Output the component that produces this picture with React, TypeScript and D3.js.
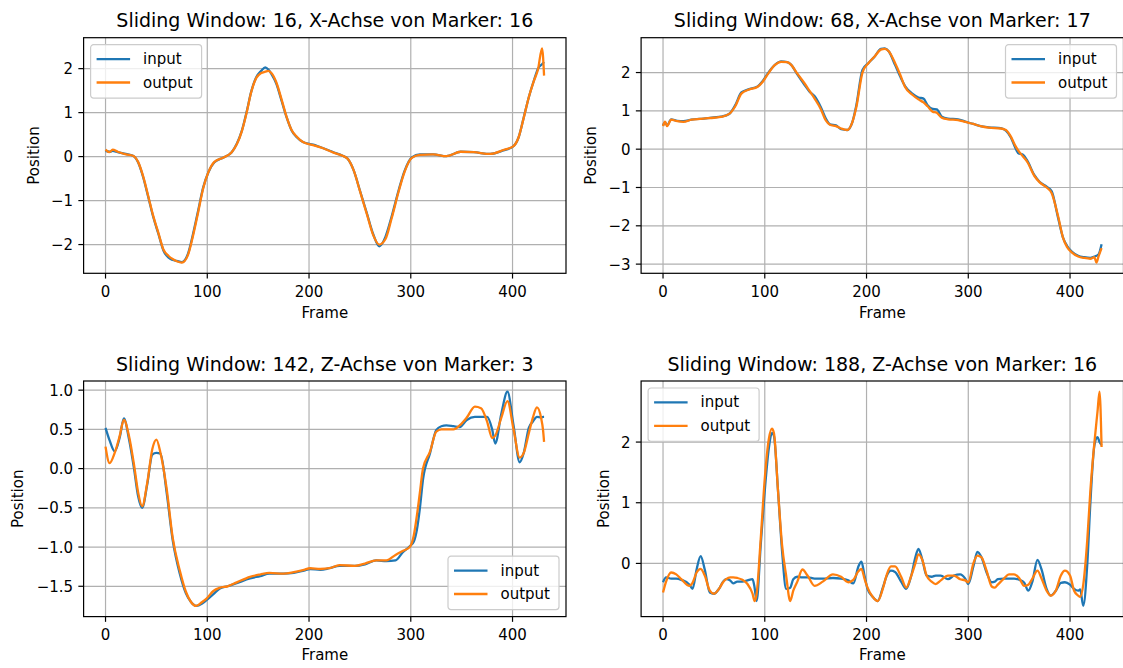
import React from 'react';
import * as d3 from 'd3';

// Panel 1: Sliding Window 16, X-Achse Marker 16
const frames1 = [0, 4, 7, 12, 20, 27, 32, 37, 42, 47, 52, 57, 62, 66, 70, 75, 81, 86, 91, 96, 101, 107, 116, 124, 129, 134, 139, 143, 148, 153, 157, 160, 163, 168, 173, 178, 183, 188, 194, 204, 214, 224, 233, 238, 244, 250, 257, 263, 269, 275, 281, 288, 294, 301, 309, 322, 335, 349, 362, 378, 391, 401, 406, 411, 416, 421, 425, 429, 431];
const input1 = [0.13, 0.11, 0.13, 0.1, 0.06, 0.02, -0.13, -0.47, -0.92, -1.38, -1.76, -2.14, -2.3, -2.35, -2.37, -2.4, -2.21, -1.76, -1.23, -0.7, -0.36, -0.13, -0.02, 0.1, 0.29, 0.59, 1.05, 1.46, 1.8, 1.95, 2.03, 1.98, 1.88, 1.65, 1.27, 0.89, 0.59, 0.44, 0.33, 0.27, 0.19, 0.1, 0.02, -0.05, -0.32, -0.77, -1.3, -1.76, -2.04, -1.83, -1.38, -0.77, -0.32, -0.02, 0.05, 0.05, 0.01, 0.11, 0.1, 0.06, 0.14, 0.24, 0.44, 0.89, 1.35, 1.73, 2.0, 2.1, 2.15];
const output1 = [0.16, 0.1, 0.16, 0.11, 0.05, 0.02, -0.12, -0.45, -0.9, -1.36, -1.74, -2.12, -2.26, -2.33, -2.38, -2.41, -2.24, -1.8, -1.27, -0.72, -0.36, -0.12, -0.02, 0.1, 0.28, 0.58, 1.03, 1.45, 1.78, 1.9, 1.93, 1.95, 1.9, 1.68, 1.3, 0.9, 0.6, 0.45, 0.33, 0.26, 0.19, 0.09, 0.02, -0.05, -0.32, -0.78, -1.32, -1.78, -2.0, -1.88, -1.42, -0.8, -0.34, -0.03, 0.04, 0.05, 0.01, 0.11, 0.1, 0.06, 0.15, 0.24, 0.44, 0.88, 1.35, 1.72, 1.98, 2.46, 1.84];

// Panel 2: Sliding Window 68, X-Achse Marker 17
const frames2 = [0, 2, 4, 8, 14, 20, 28, 40, 50, 57, 65, 71, 77, 84, 93, 98, 103, 110, 116, 122, 126, 132, 139, 144, 149, 155, 160, 164, 170, 175, 181, 186, 190, 196, 202, 208, 214, 218, 222, 228, 233, 238, 245, 251, 256, 260, 265, 269, 274, 280, 290, 297, 305, 312, 320, 332, 337, 342, 346, 349, 354, 358, 365, 370, 377, 382, 388, 393, 397, 402, 408, 414, 420, 424, 426, 428, 431];
const input2 = [0.62, 0.7, 0.62, 0.78, 0.74, 0.73, 0.77, 0.8, 0.83, 0.85, 0.92, 1.15, 1.48, 1.56, 1.64, 1.78, 1.98, 2.2, 2.29, 2.27, 2.2, 1.95, 1.68, 1.5, 1.38, 1.1, 0.8, 0.65, 0.62, 0.52, 0.5, 0.7, 1.15, 2.07, 2.25, 2.42, 2.62, 2.63, 2.55, 2.2, 1.9, 1.64, 1.45, 1.35, 1.32, 1.15, 1.05, 1.04, 0.85, 0.8, 0.78, 0.72, 0.66, 0.6, 0.57, 0.55, 0.48, 0.3, 0.05, -0.1, -0.15, -0.3, -0.68, -0.85, -0.98, -1.1, -1.76, -2.3, -2.52, -2.68, -2.78, -2.82, -2.84, -2.8, -2.78, -2.75, -2.48];
const output2 = [0.6, 0.72, 0.6, 0.77, 0.73, 0.71, 0.77, 0.8, 0.82, 0.84, 0.92, 1.12, 1.45, 1.55, 1.63, 1.76, 1.96, 2.2, 2.28, 2.27, 2.2, 1.97, 1.72, 1.52, 1.32, 1.05, 0.75, 0.64, 0.6, 0.54, 0.5, 0.7, 1.1, 2.0, 2.25, 2.42, 2.6, 2.62, 2.55, 2.25, 1.95, 1.62, 1.42, 1.3, 1.22, 1.12, 0.98, 0.95, 0.82, 0.78, 0.76, 0.71, 0.66, 0.6, 0.56, 0.54, 0.5, 0.32, 0.1, -0.03, -0.2, -0.33, -0.7, -0.86, -1.0, -1.15, -1.72, -2.3, -2.55, -2.7, -2.8, -2.84, -2.86, -2.82, -2.96, -2.8, -2.58];

// Panel 3: Sliding Window 142, Z-Achse Marker 3
const frames3 = [0, 4, 9, 14, 18, 23, 28, 32, 36, 41, 46, 50, 54, 60, 66, 73, 79, 84, 89, 95, 99, 106, 112, 120, 129, 142, 152, 161, 175, 185, 195, 201, 211, 220, 230, 245, 255, 266, 276, 285, 292, 299, 303, 306, 309, 312, 319, 325, 330, 335, 342, 348, 355, 363, 369, 375, 380, 383, 389, 395, 401, 407, 411, 416, 420, 424, 428, 430, 431];
const input3 = [0.52, 0.36, 0.22, 0.4, 0.64, 0.38, 0.0, -0.35, -0.5, -0.2, 0.18, 0.2, 0.19, -0.3, -0.91, -1.34, -1.59, -1.7, -1.75, -1.72, -1.68, -1.6, -1.53, -1.5, -1.46, -1.4, -1.37, -1.34, -1.34, -1.33, -1.3, -1.28, -1.29, -1.27, -1.24, -1.24, -1.22, -1.17, -1.18, -1.17, -1.07, -0.99, -0.93, -0.78, -0.5, -0.14, 0.2, 0.49, 0.54, 0.55, 0.54, 0.53, 0.62, 0.66, 0.66, 0.66, 0.5, 0.32, 0.7, 0.98, 0.55, 0.08, 0.2, 0.52, 0.6, 0.66, 0.65, 0.66, 0.66];
const output3 = [0.28, 0.07, 0.2, 0.42, 0.62, 0.42, 0.05, -0.3, -0.48, -0.18, 0.25, 0.37, 0.2, -0.25, -0.88, -1.3, -1.57, -1.7, -1.75, -1.7, -1.66, -1.56, -1.52, -1.5, -1.45, -1.38, -1.35, -1.33, -1.34, -1.32, -1.29, -1.27, -1.28, -1.27, -1.23, -1.24, -1.21, -1.17, -1.17, -1.1, -1.05, -1.0, -0.85, -0.6, -0.3, 0.0, 0.22, 0.47, 0.5, 0.5, 0.5, 0.55, 0.65, 0.79, 0.77, 0.6, 0.39, 0.42, 0.65, 0.86, 0.5, 0.14, 0.2, 0.45, 0.65, 0.78, 0.65, 0.49, 0.34];

// Panel 4: Sliding Window 188, Z-Achse Marker 16
const frames4 = [0, 3, 8, 13, 18, 26, 29, 33, 37, 41, 46, 50, 55, 59, 62, 66, 69, 73, 78, 83, 88, 90, 92, 96, 100, 104, 107, 109, 113, 117, 121, 125, 128, 132, 137, 142, 149, 157, 167, 175, 182, 187, 192, 195, 198, 201, 206, 211, 216, 220, 224, 228, 234, 239, 244, 248, 251, 255, 259, 264, 268, 273, 280, 286, 292, 297, 300, 305, 309, 313, 318, 323, 326, 329, 335, 340, 345, 350, 355, 359, 363, 368, 372, 377, 381, 386, 391, 395, 400, 404, 408, 410, 413, 417, 420, 424, 427, 429, 431];
const input4 = [-0.31, -0.23, -0.25, -0.25, -0.27, -0.35, -0.42, -0.1, 0.12, -0.1, -0.48, -0.5, -0.42, -0.3, -0.26, -0.28, -0.33, -0.3, -0.3, -0.28, -0.26, -0.4, -0.62, 0.3, 1.2, 1.9, 2.15, 2.1, 1.2, 0.2, -0.42, -0.4, -0.26, -0.22, -0.23, -0.23, -0.25, -0.25, -0.24, -0.25, -0.28, -0.33, -0.05, 0.03, -0.2, -0.42, -0.55, -0.62, -0.4, -0.2, -0.12, -0.14, -0.3, -0.42, -0.2, 0.1, 0.24, 0.05, -0.2, -0.22, -0.2, -0.2, -0.26, -0.2, -0.18, -0.25, -0.34, -0.05, 0.19, 0.1, -0.15, -0.31, -0.3, -0.26, -0.25, -0.25, -0.25, -0.27, -0.32, -0.45, -0.3, 0.06, -0.1, -0.42, -0.53, -0.45, -0.32, -0.31, -0.35, -0.42, -0.45, -0.43, -0.7, 0.0, 1.0, 1.95, 2.08, 2.0, 1.95];
const output4 = [-0.48, -0.3, -0.15, -0.18, -0.26, -0.37, -0.32, -0.15, -0.09, -0.2, -0.45, -0.5, -0.42, -0.31, -0.26, -0.23, -0.23, -0.24, -0.27, -0.34, -0.5, -0.62, -0.5, 0.4, 1.4, 2.05, 2.22, 2.15, 1.2, 0.3, -0.2, -0.62, -0.45, -0.3, -0.1, -0.2, -0.37, -0.3, -0.18, -0.22, -0.31, -0.27, -0.13, -0.09, -0.25, -0.4, -0.55, -0.62, -0.42, -0.18, -0.05, -0.05, -0.22, -0.4, -0.2, 0.0, 0.15, 0.05, -0.2, -0.3, -0.34, -0.28, -0.2, -0.2, -0.26, -0.28, -0.31, 0.0, 0.13, 0.1, -0.12, -0.38, -0.4, -0.35, -0.25, -0.18, -0.18, -0.24, -0.37, -0.35, -0.25, -0.12, -0.25, -0.45, -0.53, -0.45, -0.2, -0.12, -0.2, -0.45, -0.53, -0.55, -0.35, 0.4, 1.2, 2.0, 2.5, 2.83, 1.92];

const titles = [
  'Sliding Window: 16, X-Achse von Marker: 16',
  'Sliding Window: 68, X-Achse von Marker: 17',
  'Sliding Window: 142, Z-Achse von Marker: 3',
  'Sliding Window: 188, Z-Achse von Marker: 16',
];

const xTicks = [0, 100, 200, 300, 400];
const xTickLabels = ['0', '100', '200', '300', '400'];
const yTicks1 = [-2, -1, 0, 1, 2];
const yTickLabels1 = ['\u22122', '\u22121', '0', '1', '2'];
const yTicks2 = [-3, -2, -1, 0, 1, 2];
const yTickLabels2 = ['\u22123', '\u22122', '\u22121', '0', '1', '2'];
const yTicks3 = [-1.5, -1, -0.5, 0, 0.5, 1];
const yTickLabels3 = ['\u22121.5', '\u22121.0', '\u22120.5', '0.0', '0.5', '1.0'];
const yTicks4 = [0, 1, 2];
const yTickLabels4 = ['0', '1', '2'];

const seriesNames = ['input', 'output'];
const colors = ['#1f77b4', '#ff7f0e'];

const W = 1123;
const H = 668;
const AX_W = 482.4;
const AX_H = 235.6;
const FONT = 'DejaVu Sans, sans-serif';

// add 5% margin like matplotlib autoscale
const pad = (lo: number, hi: number) => {
  const m = (hi - lo) * 0.05;
  return [lo - m, hi + m];
};

type PanelProps = {
  id: string;
  left: number;
  top: number;
  title: string;
  frames: number[];
  input: number[];
  output: number[];
  yTicks: number[];
  yTickLabels: string[];
  legend: 'ul' | 'ur' | 'lr';
  ylabelX: number;
  xTickDy: number;
  xLabelDy: number;
};

const Panel = (p: PanelProps) => {
  const { left, top, frames } = p;
  const right = left + AX_W;
  const bottom = top + AX_H;

  const x = d3.scaleLinear().domain(pad(0, d3.max(frames) as number)).range([left, right]);
  const all = [...p.input, ...p.output];
  const y = d3
    .scaleLinear()
    .domain(pad(d3.min(all) as number, d3.max(all) as number))
    .range([bottom, top]);

  const line = d3
    .line<number>()
    .x((_, i) => x(frames[i]))
    .y((d) => y(d))
    .curve(d3.curveMonotoneX);

  const lw = 111;
  const lh = 53.4;
  const lx = p.legend === 'ul' ? left + 7 : right - 7 - lw;
  const ly = p.legend === 'lr' ? bottom - 7 - lh : top + 7;

  return (
    <g>
      <defs>
        <clipPath id={p.id}>
          <rect x={left} y={top} width={AX_W} height={AX_H} />
        </clipPath>
      </defs>

      {/* grid */}
      {xTicks.map((t) => (
        <line key={'gx' + t} x1={x(t)} x2={x(t)} y1={top} y2={bottom} stroke="#b0b0b0" strokeWidth={1.2} />
      ))}
      {p.yTicks.map((t) => (
        <line key={'gy' + t} x1={left} x2={right} y1={y(t)} y2={y(t)} stroke="#b0b0b0" strokeWidth={1.2} />
      ))}

      {/* series */}
      <g clipPath={`url(#${p.id})`}>
        <path d={line(p.input) || ''} fill="none" stroke={colors[0]} strokeWidth={2.3} strokeLinejoin="round" />
        <path d={line(p.output) || ''} fill="none" stroke={colors[1]} strokeWidth={2.3} strokeLinejoin="round" />
      </g>

      {/* spines */}
      <rect x={left} y={top} width={AX_W} height={AX_H} fill="none" stroke="#000" strokeWidth={1.2} />

      {/* x ticks */}
      {xTicks.map((t, i) => (
        <g key={'tx' + t}>
          <line x1={x(t)} x2={x(t)} y1={bottom} y2={bottom + 5.25} stroke="#000" strokeWidth={1.2} />
          <text x={x(t)} y={bottom + p.xTickDy} textAnchor="middle" fontSize={15} fontFamily={FONT} fill="#000">
            {xTickLabels[i]}
          </text>
        </g>
      ))}
      {/* y ticks */}
      {p.yTicks.map((t, i) => (
        <g key={'ty' + t}>
          <line x1={left - 5.25} x2={left} y1={y(t)} y2={y(t)} stroke="#000" strokeWidth={1.2} />
          <text x={left - 10.5} y={y(t) + 5.5} textAnchor="end" fontSize={15} fontFamily={FONT} fill="#000">
            {p.yTickLabels[i]}
          </text>
        </g>
      ))}

      <text x={(left + right) / 2} y={top - 10.5} textAnchor="middle" fontSize={19} fontFamily={FONT} fill="#000">
        {p.title}
      </text>
      <text x={(left + right) / 2} y={bottom + p.xLabelDy} textAnchor="middle" fontSize={15} fontFamily={FONT} fill="#000">
        Frame
      </text>
      <text
        transform={`translate(${p.ylabelX},${(top + bottom) / 2}) rotate(-90)`}
        textAnchor="middle"
        dominantBaseline="central"
        fontSize={15}
        fontFamily={FONT}
        fill="#000"
      >
        Position
      </text>

      {/* legend */}
      <g transform={`translate(${lx},${ly})`}>
        <rect width={lw} height={lh} rx={3} fill="#fff" fillOpacity={0.8} stroke="#cccccc" strokeWidth={1.2} />
        {seriesNames.map((s, i) => (
          <g key={s} transform={`translate(0,${14.4 + i * 23.4})`}>
            <line x1={6} x2={39.5} y1={0} y2={0} stroke={colors[i]} strokeWidth={2.3} />
            <text x={52.5} y={5} fontSize={15} fontFamily={FONT} fill="#000">
              {s}
            </text>
          </g>
        ))}
      </g>
    </g>
  );
};

export default function App() {
  return (
    <svg width={W} height={H} style={{ position: 'absolute', left: 0, top: 0, background: '#fff' }}>
      <rect width={W} height={H} fill="#fff" />
      <Panel id="c1" left={83.6} top={37.7} title={titles[0]} frames={frames1} input={input1} output={output1}
        yTicks={yTicks1} yTickLabels={yTickLabels1} legend="ul" ylabelX={33.8} xTickDy={24} xLabelDy={45} />
      <Panel id="c2" left={641.1} top={37.7} title={titles[1]} frames={frames2} input={input2} output={output2}
        yTicks={yTicks2} yTickLabels={yTickLabels2} legend="ur" ylabelX={590.5} xTickDy={24} xLabelDy={45} />
      <Panel id="c3" left={83.6} top={381} title={titles[2]} frames={frames3} input={input3} output={output3}
        yTicks={yTicks3} yTickLabels={yTickLabels3} legend="lr" ylabelX={17.5} xTickDy={23} xLabelDy={43.5} />
      <Panel id="c4" left={641.1} top={381} title={titles[3]} frames={frames4} input={input4} output={output4}
        yTicks={yTicks4} yTickLabels={yTickLabels4} legend="ul" ylabelX={603.8} xTickDy={23} xLabelDy={43.5} />
    </svg>
  );
}
